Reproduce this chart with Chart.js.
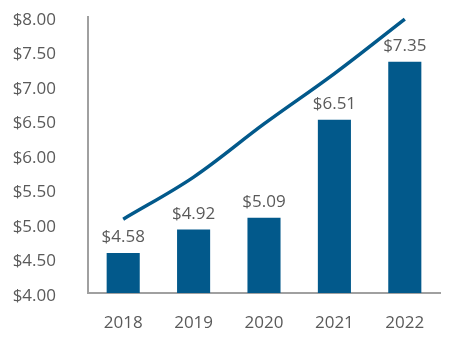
<!DOCTYPE html>
<html>
<head>
<meta charset="utf-8">
<script src="https://cdn.jsdelivr.net/npm/chart.js@4.4.1/dist/chart.umd.min.js"></script>
<style>
  html, body { margin: 0; padding: 0; background: #fff; }
  #wrap { width: 450px; height: 340px; }
</style>
</head>
<body>
<div id="wrap"><canvas id="chart" width="450" height="340"></canvas></div>
<script>
// yearly values
const years = ['2018', '2019', '2020', '2021', '2022'];
const barValues = [4.58, 4.92, 5.09, 6.51, 7.35];
const trendValues = [5.07, 5.68, 6.45, 7.18, 7.97];
const yTicks = [4.0, 4.5, 5.0, 5.5, 6.0, 6.5, 7.0, 7.5, 8.0];

const BLUE = '#02598b';
const GREY_TEXT = '#5a5a5a';
const AXIS = '#a0a0a0';
const FONT = "'Open Sans', sans-serif";

const money = v => '$' + v.toFixed(2);

// value labels above each bar
const barLabels = {
  id: 'barLabels',
  afterDatasetsDraw(chart) {
    const ctx = chart.ctx;
    const meta = chart.getDatasetMeta(0);
    ctx.save();
    ctx.font = '17px ' + FONT;
    ctx.fillStyle = GREY_TEXT;
    ctx.textAlign = 'center';
    ctx.textBaseline = 'alphabetic';
    meta.data.forEach((bar, i) => {
      ctx.fillText(money(barValues[i]), bar.x, bar.y - 11);
    });
    ctx.restore();
  }
};

new Chart(document.getElementById('chart'), {
  data: {
    labels: years,
    datasets: [
      {
        type: 'bar',
        data: barValues,
        backgroundColor: BLUE,
        barPercentage: 0.47,
        categoryPercentage: 1,
        order: 2
      },
      {
        type: 'line',
        data: trendValues,
        borderColor: BLUE,
        borderWidth: 3.5,
        pointRadius: 0,
        tension: 0.35,
        fill: false,
        clip: false,
        order: 1
      }
    ]
  },
  options: {
    responsive: false,
    animation: false,
    devicePixelRatio: 1,
    layout: { padding: { top: 17, right: 10, left: 0, bottom: 0 } },
    plugins: { legend: { display: false }, tooltip: { enabled: false } },
    scales: {
      x: {
        grid: { display: false, drawTicks: false },
        border: { color: AXIS, width: 2 },
        ticks: { color: GREY_TEXT, font: { family: FONT, size: 17 }, padding: 20 },
        afterFit: s => { s.height = 47; }
      },
      y: {
        min: 4,
        max: 8,
        afterBuildTicks: s => { s.ticks = yTicks.map(v => ({ value: v })); },
        grid: { display: false, drawTicks: false },
        border: { color: AXIS, width: 2 },
        ticks: {
          color: GREY_TEXT,
          font: { family: FONT, size: 17 },
          padding: 32,
          labelOffset: 3,
          callback: v => money(v)
        },
        // fixed width, and no extra room reserved for the end labels
        afterFit: s => {
          s.width = 88;
          s.paddingTop = 0;
          s.paddingBottom = 0;
        }
      }
    }
  },
  plugins: [barLabels]
});
</script>
</body>
</html>
